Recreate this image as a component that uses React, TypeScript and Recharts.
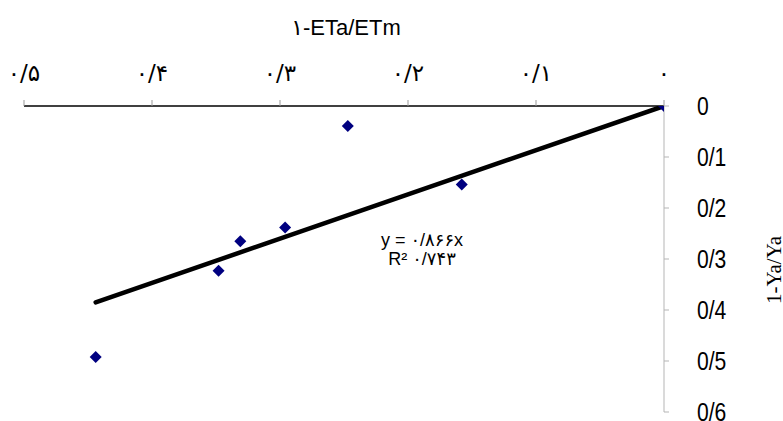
import React from "react";
import { ScatterChart, Scatter, XAxis, YAxis } from "recharts";

// Observed points: x = 1-ETa/ETm, y = 1-Ya/Ya
const xValues = [0, 0.158, 0.247, 0.296, 0.331, 0.348, 0.444];
const yValues = [0, 0.154, 0.039, 0.238, 0.265, 0.323, 0.492];

// Trendline endpoints (y = 0.866x)
const trendX = [0, 0.444];
const trendY = [0, 0.385];

const xTicks = [0, 0.1, 0.2, 0.3, 0.4, 0.5];
const xTickLabels = ["۰", "۰/۱", "۰/۲", "۰/۳", "۰/۴", "۰/۵"];
const yTicks = [0, 0.1, 0.2, 0.3, 0.4, 0.5, 0.6];
const yTickLabels = ["0", "0/1", "0/2", "0/3", "0/4", "0/5", "0/6"];

const xTitle = "۱-ETa/ETm";
const yTitle = "1-Ya/Ya";
const eqLine1 = "y = ۰/۸۶۶x";
const eqLine2 = "R² ۰/۷۴۳";

const points = xValues.map((x, i) => ({ x, y: yValues[i] }));
const trend = trendX.map((x, i) => ({ x, y: trendY[i] }));

const Diamond = (props: any) => {
  const { cx, cy } = props;
  if (cx == null || cy == null) return null;
  const r = 6;
  return (
    <polygon
      points={`${cx},${cy - r} ${cx + r},${cy} ${cx},${cy + r} ${cx - r},${cy}`}
      fill="#000080"
    />
  );
};

const fmtX = (v: number) => {
  const i = xTicks.findIndex((t) => Math.abs(t - v) < 1e-9);
  return i >= 0 ? xTickLabels[i] : String(v);
};
const fmtY = (v: number) => {
  const i = yTicks.findIndex((t) => Math.abs(t - v) < 1e-9);
  return i >= 0 ? yTickLabels[i] : String(v);
};

const YTick = (props: any) => {
  const { x, y, payload } = props;
  return (
    <g transform={`translate(${x},${y})`}>
      <text
        x={0}
        y={0}
        dy="0.36em"
        textAnchor="start"
        transform="scale(0.88,1.05)"
        fill="#000"
        fontSize={24}
        fontFamily="'Liberation Sans', Arial, sans-serif"
      >
        {fmtY(payload.value)}
      </text>
    </g>
  );
};

export default function App() {
  return (
    <div style={{ position: "absolute", left: 0, top: 0, width: 783, height: 421, background: "#fff" }}>
      <ScatterChart
        width={783}
        height={421}
        margin={{ top: 66, right: 19, left: 24, bottom: 9 }}
      >
        <XAxis
          type="number"
          dataKey="x"
          orientation="top"
          reversed
          domain={[0, 0.5]}
          ticks={xTicks}
          tickFormatter={fmtX}
          height={40}
          axisLine={{ stroke: "#000", strokeWidth: 1.5 }}
          tickLine={{ stroke: "#999" }}
          tickSize={6}
          tickMargin={19}
          tick={{ fill: "#000", fontSize: 23, fontFamily: "'DejaVu Sans', sans-serif" }}
          allowDataOverflow
        />
        <YAxis
          type="number"
          dataKey="y"
          orientation="right"
          reversed
          domain={[0, 0.6]}
          ticks={yTicks}
          width={100}
          axisLine={{ stroke: "#b5b5b5" }}
          tickLine={{ stroke: "#b5b5b5" }}
          tickSize={5}
          tickMargin={28}
          tick={<YTick />}
          allowDataOverflow
        />
        <Scatter
          data={trend}
          line={{ stroke: "#000", strokeWidth: 4.5, strokeLinecap: "round" }}
          shape={() => null}
          isAnimationActive={false}
        />
        <Scatter data={points} shape={<Diamond />} isAnimationActive={false} />
      </ScatterChart>
      <div
        style={{
          position: "absolute",
          left: 246,
          width: 200,
          top: 15,
          textAlign: "center",
          fontFamily: "'Liberation Sans', 'DejaVu Sans', sans-serif",
          fontSize: 22,
          lineHeight: "26px",
          color: "#000",
        }}
      >
        {xTitle}
      </div>
      <div
        style={{
          position: "absolute",
          left: 322,
          width: 200,
          top: 231,
          textAlign: "center",
          fontFamily: "'Liberation Sans', 'DejaVu Sans', sans-serif",
          fontSize: 18,
          lineHeight: "19px",
          color: "#000",
        }}
      >
        <div>{eqLine1}</div>
        <div>{eqLine2}</div>
      </div>
      <div
        style={{
          position: "absolute",
          left: 774,
          top: 270,
          transform: "translate(-50%, -50%) rotate(-90deg)",
          fontFamily: "'Liberation Serif', serif",
          fontSize: 21,
          lineHeight: "18px",
          whiteSpace: "nowrap",
          color: "#000",
        }}
      >
        {yTitle}
      </div>
    </div>
  );
}
